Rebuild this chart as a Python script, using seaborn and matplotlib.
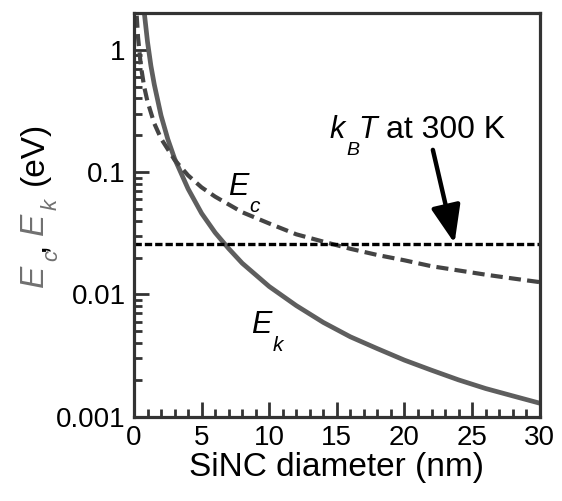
import numpy as np
import pandas as pd
import matplotlib
matplotlib.use("Agg")
import matplotlib.pyplot as plt
import seaborn as sns
from matplotlib.ticker import FixedLocator, NullFormatter, LogLocator

# ---- data ----
ek_d = [0.75, 1, 1.25, 1.5, 2, 2.5, 3, 4, 5, 6, 7, 8, 10, 12, 14, 16, 18, 20, 22, 24, 26, 28, 30]
ek_e = [2.06, 1.16, 0.74, 0.52, 0.29, 0.186, 0.129, 0.073, 0.046, 0.032, 0.0237, 0.018,
        0.0116, 0.0081, 0.0059, 0.0045, 0.0036, 0.0029, 0.0024, 0.0020, 0.0017, 0.00148, 0.00129]
ec_d = [0.2, 0.3, 0.5, 0.75, 1, 1.5, 2, 3, 4, 5, 6, 8, 10, 12, 14, 16, 18, 20, 22, 24, 26, 28, 30]
ec_e = [1.9, 1.26, 0.75, 0.5, 0.377, 0.25, 0.188, 0.126, 0.094, 0.075, 0.063, 0.047, 0.038,
        0.031, 0.027, 0.0236, 0.021, 0.019, 0.017, 0.0157, 0.0145, 0.0135, 0.0126]
kt_d = [0, 30]
kt_e = [0.0259, 0.0259]
x_ticks = [0, 5, 10, 15, 20, 25, 30]
y_ticks = [0.001, 0.01, 0.1, 1]
y_ticklabels = ["0.001", "0.01", "0.1", "1"]

sns.set_style("ticks")
plt.rcParams['font.family'] = ['Liberation Sans', 'DejaVu Sans']
plt.rcParams['text.color'] = 'black'
plt.rcParams['axes.labelcolor'] = 'black'

W, H = 562, 501
fig = plt.figure(figsize=(W / 100, H / 100), dpi=100)
ax = fig.add_axes([134 / W, (H - 416.7) / H, (539.7 - 134) / W, (416.7 - 13) / H])


def px(x, y):
    return x / W, (H - y) / H


df_k = pd.DataFrame({"d": ek_d, "E": ek_e})
df_c = pd.DataFrame({"d": ec_d, "E": ec_e})
df_t = pd.DataFrame({"d": kt_d, "E": kt_e})

sns.lineplot(data=df_k, x="d", y="E", ax=ax, color="#5e5e5e", lw=3.4)
sns.lineplot(data=df_c, x="d", y="E", ax=ax, color="#444444", lw=3.0,
             linestyle=(0, (2.9, 1.5)))
sns.lineplot(data=df_t, x="d", y="E", ax=ax, color="black", lw=2.4,
             linestyle=(0, (2.2, 0.9)))

ax.set_yscale("log")
ax.set_xlim(0, 30)
ax.set_ylim(0.001, 2.0)

ax.xaxis.set_major_locator(FixedLocator(x_ticks))
ax.xaxis.set_minor_locator(FixedLocator(np.arange(0, 31, 1)))
ax.yaxis.set_major_locator(FixedLocator(y_ticks))
ax.set_yticklabels(y_ticklabels)
ax.yaxis.set_minor_locator(LogLocator(base=10, subs=np.arange(2, 10)))
ax.yaxis.set_minor_formatter(NullFormatter())

for s in ax.spines.values():
    s.set_linewidth(2.3)
    s.set_color("#333333")
    s.set_visible(True)

ax.tick_params(which='major', direction='in', length=11, width=2, color="#333333",
               labelsize=20, pad=6, labelcolor='black', top=False, right=False)
ax.tick_params(which='minor', direction='in', length=5.5, width=2, color="#333333",
               top=False, right=False)

ax.set_xlabel("SiNC diameter (nm)", fontsize=24, labelpad=1, color='black')
ax.set_ylabel("")

# y-axis label built from pieces (gray italic symbols, black rest)
gray = "#707070"
ylab = [("E", 24, "italic", gray, 43, 287),
        ("c", 16, "italic", gray, 57, 261),
        (",", 24, "normal", "black", 43, 251),
        ("E", 24, "italic", gray, 43, 235),
        ("k", 16, "italic", gray, 57, 210),
        ("(eV)", 24, "normal", "black", 43, 185)]
for t, sz, st, col, x, y in ylab:
    fig.text(*px(x, y), t, fontsize=sz, fontstyle=st, color=col, rotation=90,
             rotation_mode='anchor', ha='left', va='baseline')

# in-plot labels
labels = [("E", 22, "italic", 228, 195),
          ("c", 15, "italic", 249, 212),
          ("E", 22, "italic", 251, 332.7),
          ("k", 15, "italic", 273, 351),
          ("k", 22, "italic", 330, 138),
          ("B", 14, "italic", 346, 155),
          ("T", 22, "italic", 358, 138),
          ("at 300 K", 23, "normal", 386, 138)]
for t, sz, st, x, y in labels:
    fig.text(*px(x, y), t, fontsize=sz, fontstyle=st, color="black",
             ha='left', va='baseline')

ax.annotate("", xy=(23.7, 0.0262), xytext=(22.1, 0.152),
            arrowprops=dict(arrowstyle='-|>,head_length=1.15,head_width=0.45',
                            lw=3.2, color='black', mutation_scale=20, shrinkA=0, shrinkB=0))

fig.savefig("out.png", dpi=100)
